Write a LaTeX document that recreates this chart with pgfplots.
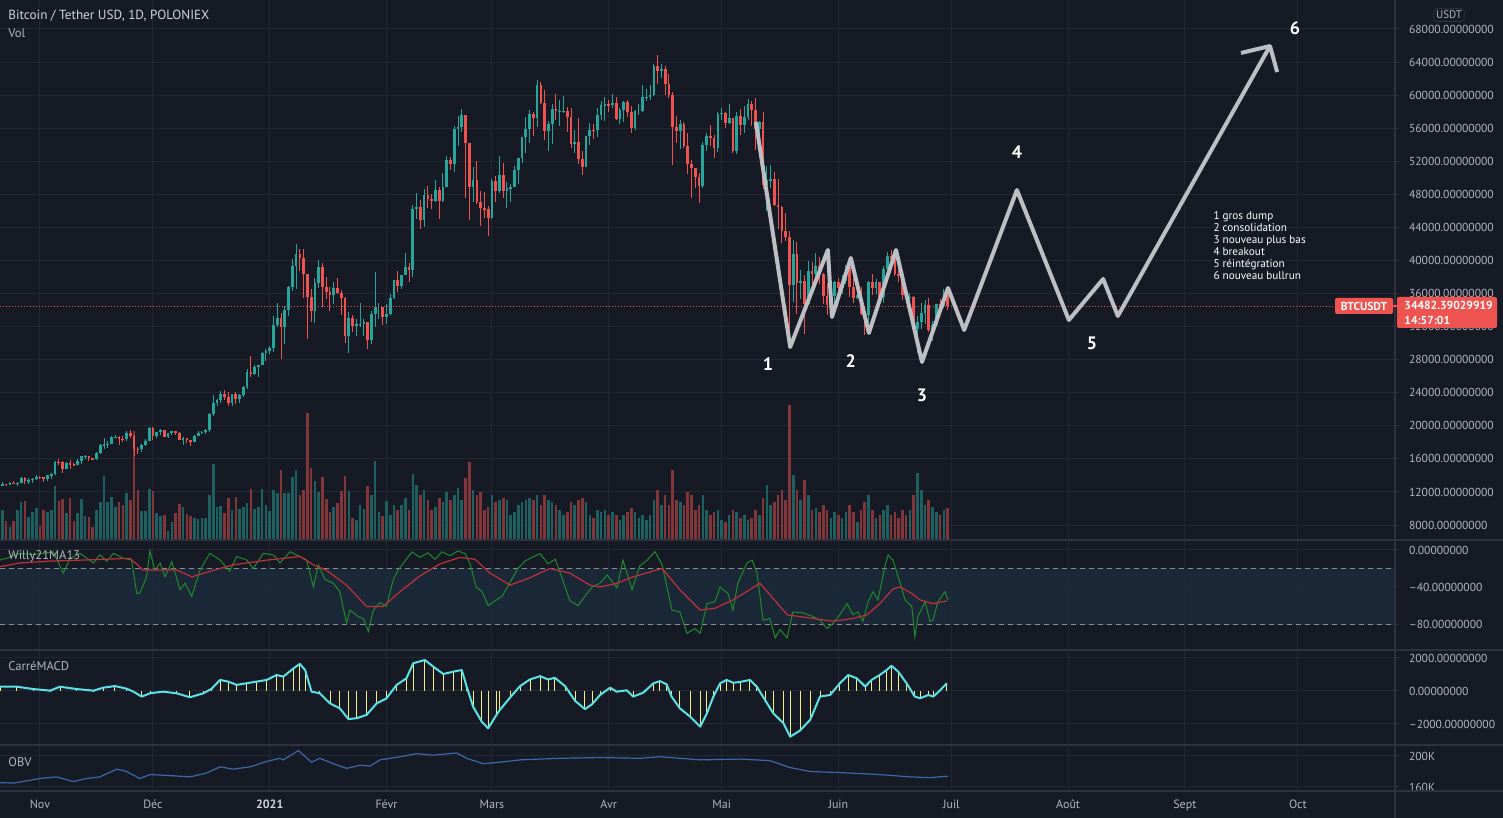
\documentclass[border=0pt]{standalone}
\usepackage{fontspec}
\setmainfont{PT Sans}
\usepackage{pgfplots}
\usepackage{pgfplotstable}
\pgfplotsset{compat=1.18}

\definecolor{bgc}{HTML}{161A25}
\definecolor{gridc}{HTML}{232733}
\definecolor{sepc}{HTML}{2E323E}
\definecolor{txtc}{HTML}{B2B5BE}
\definecolor{titc}{HTML}{D1D4DC}
\definecolor{upc}{HTML}{26A69A}
\definecolor{dnc}{HTML}{EF5350}
\definecolor{volup}{HTML}{1E605F}
\definecolor{voldn}{HTML}{82363A}
\definecolor{bandc}{HTML}{1D2B3B}
\definecolor{dashc}{HTML}{8A8D96}
\definecolor{wgreen}{HTML}{1F8B2C}
\definecolor{wred}{HTML}{C2303A}
\definecolor{macdc}{HTML}{5CE1E6}
\definecolor{macdy}{HTML}{F5EC8A}
\definecolor{obvc}{HTML}{3C67A8}
\definecolor{annc}{HTML}{BEBFC4}

% daily candles, d = days from 1 Nov 2020, prices in thousands USDT, v = volume bar
\pgfplotstableread{
d o h l c v
-11 11.92 13.22 11.90 12.80 50
-10 12.80 13.20 12.68 12.97 30
-9 12.97 13.02 12.72 12.93 19
-8 12.93 13.17 12.90 13.11 13
-7 13.11 13.34 12.92 13.03 19
-6 13.03 13.24 12.78 13.07 30
-5 13.07 13.78 13.05 13.64 38
-4 13.64 13.86 12.95 13.27 39
-3 13.27 13.63 12.99 13.46 23
-2 13.46 13.68 13.12 13.56 28
-1 13.56 14.08 13.43 13.80 32
0 13.80 13.89 13.60 13.76 14
1 13.76 13.82 13.20 13.55 30
2 13.55 14.07 13.29 14.03 28
3 14.03 14.24 13.53 14.13 30
4 14.13 15.76 14.09 15.59 54
5 15.59 15.97 15.21 15.58 39
6 15.58 15.77 14.35 14.83 41
7 14.83 15.65 14.72 15.48 27
8 15.48 15.84 14.81 15.33 42
9 15.33 15.47 15.09 15.30 19
10 15.30 15.96 15.29 15.70 27
11 15.70 16.34 15.43 16.29 41
12 16.29 16.48 15.95 16.33 24
13 16.33 16.33 15.78 16.07 23
14 16.07 16.14 15.87 15.96 13
15 15.96 16.85 15.89 16.72 30
16 16.72 17.85 16.56 17.65 38
17 17.65 18.48 17.22 17.78 64
18 17.78 18.12 17.34 17.82 38
19 17.82 18.82 17.76 18.68 43
20 18.68 18.95 18.51 18.70 33
21 18.70 18.71 17.65 18.42 38
22 18.42 18.76 18.01 18.37 35
23 18.37 19.39 18.14 19.16 47
24 19.16 19.49 18.57 18.73 40
25 18.73 18.92 16.33 17.15 109
26 17.15 17.46 16.54 17.14 50
27 17.14 17.86 16.88 17.72 29
28 17.72 18.35 17.54 18.18 29
29 18.18 19.86 18.17 19.70 51
30 19.70 19.90 18.33 18.80 49
31 18.80 19.31 18.51 19.22 27
32 19.22 19.57 18.92 19.45 24
33 19.45 19.52 18.59 18.70 25
34 18.70 19.18 18.51 19.15 9
35 19.15 19.42 18.86 19.36 18
36 19.36 19.41 18.92 19.17 27
37 19.17 19.28 18.24 18.32 36
38 18.32 18.63 17.65 18.55 33
39 18.55 18.57 17.91 18.25 26
40 18.25 18.27 17.58 18.04 24
41 18.04 18.94 18.02 18.80 22
42 18.80 19.41 18.72 19.17 21
43 19.17 19.35 19.00 19.27 22
44 19.27 19.57 19.05 19.44 22
45 19.44 21.56 19.30 21.38 45
46 21.38 23.77 21.23 22.80 76
47 22.80 23.28 22.35 23.14 33
48 23.14 24.17 22.77 23.87 34
49 23.87 24.30 23.07 23.48 27
50 23.48 24.10 22.40 22.74 42
51 22.74 23.84 22.35 23.83 30
52 23.83 24.10 22.66 23.24 43
53 23.24 23.80 22.72 23.73 31
54 23.73 24.79 23.43 24.71 33
55 24.71 26.87 24.50 26.49 37
56 26.49 28.42 25.85 26.28 51
57 26.28 27.39 26.09 27.08 31
58 27.08 27.40 25.88 27.36 33
59 27.36 28.99 27.32 28.84 51
60 28.84 29.30 27.85 29.00 35
61 29.00 29.60 28.65 29.37 29
62 29.37 33.30 28.95 32.19 50
63 32.19 34.80 32.00 33.00 47
64 33.00 33.60 28.13 31.99 70
65 31.99 34.44 29.90 33.96 47
66 33.96 36.94 33.30 36.82 47
67 36.82 40.18 36.30 39.37 63
68 39.37 41.95 36.50 40.80 70
69 40.80 41.38 38.72 40.25 45
70 40.25 41.35 35.50 38.35 50
71 38.35 38.35 30.45 35.55 127
72 35.55 36.60 32.50 33.92 72
73 33.92 37.85 32.40 37.32 59
74 37.32 40.10 36.70 39.19 48
75 39.19 39.70 34.40 36.82 63
76 36.82 37.95 35.40 36.18 41
77 36.18 36.85 33.85 35.79 28
78 35.79 37.40 34.75 36.63 33
79 36.63 37.85 35.90 36.07 37
80 36.07 36.40 33.40 35.50 49
81 35.50 35.60 30.07 30.83 64
82 30.83 33.80 28.85 33.01 49
83 33.01 33.45 31.40 32.10 22
84 32.10 32.95 30.90 32.28 20
85 32.28 34.88 31.95 32.37 35
86 32.37 32.90 30.84 32.57 31
87 32.57 32.57 29.24 30.43 54
88 30.43 33.85 29.85 33.47 45
89 33.47 38.55 31.95 34.32 79
90 34.32 34.90 32.90 34.32 28
91 34.32 34.32 32.20 33.14 24
92 33.14 34.70 32.30 33.51 39
93 33.51 35.95 33.42 35.48 25
94 35.48 37.65 35.37 37.62 35
95 37.62 38.70 36.15 36.94 30
96 36.94 38.30 36.60 38.29 35
97 38.29 40.95 38.20 39.26 42
98 39.26 39.70 37.40 38.90 30
99 38.90 46.75 37.99 46.20 66
100 46.20 48.20 45.00 46.48 55
101 46.48 47.30 43.80 44.84 45
102 44.84 48.60 43.99 47.97 50
103 47.97 48.95 46.30 47.40 40
104 47.40 48.00 46.20 47.19 30
105 47.19 49.70 47.05 48.58 33
106 48.58 48.88 45.00 47.17 42
107 47.17 50.55 47.05 48.94 38
108 48.94 52.60 48.90 52.12 48
109 52.12 52.50 50.90 51.62 40
110 51.62 56.30 50.70 55.89 45
111 55.89 57.50 53.90 56.10 52
112 56.10 58.35 55.50 57.54 40
113 57.54 57.54 47.60 54.20 62
114 54.20 54.20 44.95 48.89 78
115 48.89 51.35 47.05 49.70 50
116 49.70 52.00 46.80 47.09 45
117 47.09 48.40 44.20 46.34 48
118 46.34 48.30 45.10 46.19 30
119 46.19 46.60 43.00 45.14 33
120 45.14 49.80 45.00 49.60 45
121 49.60 50.20 47.10 48.44 38
122 48.44 52.60 48.15 50.35 40
123 50.35 51.80 47.50 48.37 42
124 48.37 49.45 46.30 48.76 40
125 48.76 49.20 47.07 48.88 25
126 48.88 51.45 48.88 50.97 28
127 50.97 52.40 49.30 52.38 35
128 52.38 54.90 51.85 54.88 38
129 54.88 57.40 53.00 55.96 40
130 55.96 58.15 54.25 57.77 42
131 57.77 58.00 55.05 57.23 40
132 57.23 61.80 56.10 61.19 45
133 61.19 61.60 58.95 59.00 35
134 59.00 60.60 54.60 55.64 45
135 55.64 56.90 53.30 56.47 40
136 56.47 58.90 54.10 58.33 38
137 58.33 60.10 57.00 58.03 35
138 58.03 59.45 56.25 58.10 30
139 58.10 59.90 57.80 58.11 25
140 58.11 58.60 55.50 57.35 28
141 57.35 58.40 53.65 54.10 38
142 54.10 55.80 53.00 54.34 35
143 54.34 57.20 51.70 52.30 40
144 52.30 53.20 50.40 51.30 42
145 51.30 55.10 51.30 55.03 38
146 55.03 56.60 53.95 55.84 25
147 55.84 56.55 54.70 55.78 22
148 55.78 58.40 54.90 57.63 30
149 57.63 59.35 57.00 58.75 28
150 58.75 59.80 56.90 58.92 30
151 58.92 59.45 57.95 58.76 25
152 58.76 60.10 58.45 59.04 28
153 59.04 59.80 56.95 57.06 25
154 57.06 58.50 56.50 58.20 20
155 58.20 59.25 56.80 59.13 25
156 59.13 59.45 57.40 57.99 28
157 57.99 58.65 55.45 56.00 32
158 56.00 58.15 55.80 58.09 28
159 58.09 58.90 57.65 58.09 22
160 58.09 61.20 57.90 59.77 25
161 59.77 60.70 59.30 59.79 20
162 59.79 61.20 59.40 59.98 25
163 59.98 63.80 59.87 63.50 40
164 63.50 64.85 61.30 62.96 50
165 62.96 63.80 62.05 63.20 35
166 63.20 63.55 60.00 61.40 45
167 61.40 62.50 59.60 60.06 35
168 60.06 60.40 51.50 56.20 70
169 56.20 57.50 54.20 55.70 40
170 55.70 57.00 53.50 56.50 38
171 56.50 56.70 53.65 53.80 35
172 53.80 55.45 50.50 51.70 48
173 51.70 52.10 47.50 51.15 45
174 51.15 51.20 48.80 50.05 30
175 50.05 50.55 47.00 49.00 35
176 49.00 54.35 48.80 54.00 45
177 54.00 55.45 53.20 55.03 30
178 55.03 56.40 53.90 54.84 25
179 54.84 55.15 52.40 53.56 28
180 53.56 57.95 53.10 57.75 30
181 57.75 58.45 57.05 57.83 20
182 57.83 57.90 56.05 56.62 18
183 56.62 58.95 56.50 57.20 25
184 57.20 57.25 53.05 53.24 30
185 53.24 57.90 52.90 57.50 28
186 57.50 58.35 55.20 56.40 22
187 56.40 58.65 55.40 57.40 25
188 57.40 59.50 56.95 58.90 20
189 58.90 59.25 56.25 58.25 22
190 58.25 59.60 53.40 55.86 30
191 55.86 56.90 54.40 56.70 25
192 56.70 58.00 48.60 49.15 42
193 49.15 51.40 46.00 49.70 55
194 49.70 51.55 48.80 49.88 35
195 49.88 50.70 46.60 46.76 38
196 46.76 49.80 43.85 46.45 45
197 46.45 46.60 42.10 43.54 50
198 43.54 45.80 42.30 42.90 40
199 42.90 43.55 30.00 37.00 135
200 37.00 42.50 35.00 40.80 65
201 40.80 42.20 33.50 37.30 50
202 37.30 38.80 35.30 37.50 40
203 37.50 38.30 31.10 34.70 60
204 34.70 39.90 34.60 38.70 45
205 38.70 39.80 36.40 38.40 30
206 38.40 40.85 37.80 39.30 32
207 39.30 40.40 37.20 38.40 28
208 38.40 38.45 34.70 35.70 35
209 35.70 37.30 33.40 34.60 30
210 34.60 36.50 33.70 35.65 22
211 35.65 37.50 34.20 37.34 28
212 37.34 37.90 35.70 36.70 25
213 36.70 38.20 35.95 37.57 22
214 37.57 39.50 37.20 39.20 28
215 39.20 39.30 35.60 36.85 35
216 36.85 37.90 34.80 35.52 28
217 35.52 36.50 35.30 35.80 18
218 35.80 36.80 33.40 33.57 30
219 33.57 34.10 31.00 33.38 38
220 33.38 37.50 32.40 37.39 45
221 37.39 38.40 35.80 36.69 30
222 36.69 37.70 35.95 37.34 22
223 37.34 37.45 34.65 35.55 25
224 35.55 39.30 34.80 39.02 30
225 39.02 41.05 38.80 40.52 35
226 40.52 41.30 39.50 40.14 25
227 40.14 40.50 38.10 38.35 28
228 38.35 39.55 37.40 38.09 22
229 38.09 38.20 35.20 35.82 30
230 35.82 36.45 34.85 35.48 25
231 35.48 36.10 33.35 35.60 30
232 35.60 35.75 31.25 31.68 45
233 31.68 33.30 28.80 32.50 67
234 32.50 34.80 31.70 33.68 50
235 33.68 35.20 32.30 34.66 35
236 34.66 35.50 31.30 31.60 40
237 31.60 32.70 30.20 32.24 33
238 32.24 34.70 32.00 34.68 28
239 34.68 35.30 33.90 34.50 25
240 34.50 36.60 34.20 35.87 30
241 35.87 36.10 34.05 34.48 32
}\ohlc

% Willy21 (green) and its MA13 (red)
\pgfplotstableread{
d w
-10.6 -10.8
-8.9 -9
-5.3 -3.6
-1.8 -5
0.9 -3.6
3.5 -2
6.2 -25
8.0 -9
10.6 -3.6
14.2 -14
15.9 -5
17.7 -12
19.5 -3.6
22.1 -9
24.3 -10.8
25.7 -47
26.5 -47
28.3 -29
29.2 -1
30.5 -22
31.9 -14
33.2 -29
35.0 -12.6
37.2 -43
38.5 -36
40.3 -50
42.5 -21.6
45.1 -3.6
47.8 -10.8
50.4 -23
52.2 -7
54.9 -10.8
56.6 -20
59.3 -3.6
62.0 -5.4
63.7 -14
66.4 -1.8
69.0 -7
70.8 -10.8
72.6 -40
73.9 -16
75.7 -32
77.9 -36
79.6 -45
81.4 -79
82.3 -65
84.5 -72
85.8 -74
87.2 -88
88.5 -65
90.3 -57
92.0 -61
93.8 -32
95.1 -21.6
96.9 -12
98.8 -2
100.9 -8
103.0 -3
104.9 -10
106.7 -2
108.9 -6
111.0 -1
112.9 -4
114.2 -15
115.8 -40
117.4 -45
119.0 -60
120.8 -55
122.7 -50
124.8 -35
126.9 -20
128.8 -12
130.6 -8
132.8 -4
134.9 -15
136.8 -10
138.6 -30
140.7 -55
142.9 -60
144.7 -50
146.6 -40
148.7 -36
150.6 -27
153.2 -41
154.8 -11
157.2 -43
159.3 -17
161.2 -11
163.3 -1.8
165.2 -16
167.8 -65
169.9 -67
171.8 -90
173.9 -85
175.3 -90
177.1 -58
179.2 -56
180.6 -40
182.7 -47
184.0 -65
185.3 -36
187.7 -14
189.1 -11
190.4 -25
192.0 -76
193.8 -74
195.2 -95
196.5 -86
198.4 -95
199.9 -67
202.6 -68
205.3 -72
207.1 -76
209.0 -85
210.6 -79
212.4 -70
214.3 -58
215.9 -70
217.2 -67
218.5 -77
219.9 -56
221.2 -45
222.5 -54
224.4 -17
225.2 -5.4
226.5 -11
228.4 -36
229.7 -54
231.5 -61
232.3 -94
233.1 -72
235.0 -56
236.3 -77
237.1 -76
238.4 -56
240.3 -45
241.1 -54
}\willy

\pgfplotstableread{
d m
-10.6 -18
-5.3 -14
2.6 -12
10.6 -11
23.9 -9
27.4 -21.6
36.3 -21.6
40.3 -29
46.0 -22
51.3 -16
60.2 -11
69.0 -7
72.6 -16
76.1 -22
81.4 -38
86.7 -61
91.1 -61
95.6 -45
100.9 -28
106.2 -15
111.5 -8
115.5 -10
119.5 -25
124.8 -38
130.1 -30
135.4 -20
140.7 -25
146.0 -38
148.7 -40
153.2 -36
157.5 -29
165.2 -20
169.9 -43
175.3 -65
179.2 -63
184.0 -54
191.2 -36
198.4 -70
205.3 -74
210.6 -77
215.9 -74
219.6 -70
223.0 -58
226.5 -42
228.4 -40
231.5 -47
233.7 -54
237.1 -58
240.8 -55
}\willyma

\pgfplotstableread{
d m
-10.6 260
-6.2 260
-1.8 120
2.7 20
5.3 260
9.7 120
14.2 20
16.8 200
19.9 300
23.0 140
24.8 -40
27.0 -340
29.2 -140
32.7 -40
36.3 -140
39.8 -380
43.4 -140
45.6 140
47.8 670
50.0 570
52.2 370
54.9 470
57.5 570
60.2 670
62.8 970
64.6 870
67.3 1370
69.0 1640
70.4 1270
72.1 -40
74.3 -140
77.0 -750
79.6 -1050
81.9 -1700
84.1 -1650
86.7 -1450
89.4 -750
92.0 -450
94.7 370
97.3 770
99.1 1680
102.2 1880
104.4 1480
107.1 1030
109.7 1170
112.0 1270
113.3 260
115.0 -950
117.3 -1860
119.0 -2260
121.2 -1450
122.1 -1150
124.8 -400
127.5 300
130.1 700
132.8 900
134.9 700
136.7 800
139.4 300
142.1 -600
144.7 -1100
146.6 -800
148.7 -240
151.4 200
153.1 -40
155.8 40
157.5 -340
160.2 -100
162.9 470
164.6 600
166.4 400
167.7 -340
169.9 -1050
172.6 -1550
175.3 -2160
177.0 -1400
178.8 -340
180.6 470
182.3 670
184.1 500
185.9 550
188.5 670
190.3 270
192.5 -540
194.7 -1350
197.4 -1950
199.2 -2770
201.8 -2400
204.5 -1750
207.1 -340
209.8 -240
212.4 470
214.6 970
216.9 770
219.1 270
220.8 670
223.0 970
224.8 1270
226.1 1530
227.9 1170
230.1 470
232.3 -340
233.7 -440
235.9 -240
237.2 -340
239.0 40
240.8 470
}\macd

\pgfplotstableread{
d k
-10.6 165.6
-7.1 165
-3.5 168
0 171
4.4 173
8.8 167
12.4 171
15.9 173
20.4 183
23.0 180
26.5 171
29.2 176
33.6 175
39.8 173
44.2 178
47.8 186
51.3 183
55.8 186
60.2 193
63.7 197
64.6 195
68.6 207
72.1 192
74.3 197
77.9 190
81.4 184
85.0 188
87.6 187
90.3 195
95.6 199
100.0 203
104.4 201
110.6 204
113.3 197
117.7 190
122.1 192
127.5 195
138.1 197
148.7 198
159.3 197
164.6 199
175.3 195
185.9 196
193.8 194
199.2 185
204.5 180
215.1 178
223.0 176
231.0 173
236.3 172
241.1 174
}\obv

\pgfplotsset{
  panel/.style={
    scale only axis, width=697.5pt, anchor=south west,
    xmin=-10.62, xmax=359.8,
    axis line style={draw=none},
    xtick={0,30,61,92,120,151,181,212,242,273,304,334},
    xticklabels={}, xtick style={draw=none},
    ytick pos=right, yticklabel pos=right,
    ytick style={draw=sepc, line width=0.5pt}, major tick length=2pt, tick align=outside,
    yticklabel style={anchor=west, xshift=1.5pt, font=\fontsize{5.8}{7}\selectfont, text=txtc},
    grid style={draw=gridc, line width=0.5pt},
    xmajorgrids, ymajorgrids,
  },
  bare/.style={panel, xtick=\empty, ytick=\empty, xmajorgrids=false, ymajorgrids=false},
}

\begin{document}
\begin{tikzpicture}
\fill[bgc] (0,0) rectangle (751.5pt,409pt);

% price panel: grid and scale
\begin{axis}[panel, at={(0pt,139pt)}, height=270pt, ymin=6.19, ymax=71.508,
  ytick={8,12,16,20,24,28,32,36,40,44,48,52,56,60,64,68},
  yticklabels={8000.00000000,12000.00000000,16000.00000000,20000.00000000,24000.00000000,28000.00000000,32000.00000000,36000.00000000,40000.00000000,44000.00000000,48000.00000000,52000.00000000,56000.00000000,60000.00000000,64000.00000000,68000.00000000}]
\end{axis}

% volume
\begin{axis}[bare, at={(0pt,139pt)}, height=270pt, ymin=0, ymax=540]
\addplot[ycomb, draw=volup, line width=1.3pt] table[x=d, y expr={\thisrow{c}>=\thisrow{o} ? \thisrow{v} : nan}] {\ohlc};
\addplot[ycomb, draw=voldn, line width=1.3pt] table[x=d, y expr={\thisrow{c}<\thisrow{o} ? \thisrow{v} : nan}] {\ohlc};
\end{axis}

% candles and drawing
\begin{axis}[bare, at={(0pt,139pt)}, height=270pt, ymin=6.19, ymax=71.508]
\addplot[draw=none, error bars/.cd, y dir=both, y explicit, error mark=none, error bar style={draw=upc, line width=0.5pt}]
  table[x=d, y expr={\thisrow{c}>=\thisrow{o} ? (\thisrow{h}+\thisrow{l})/2 : nan}, y error expr={(\thisrow{h}-\thisrow{l})/2}] {\ohlc};
\addplot[draw=none, error bars/.cd, y dir=both, y explicit, error mark=none, error bar style={draw=dnc, line width=0.5pt}]
  table[x=d, y expr={\thisrow{c}<\thisrow{o} ? (\thisrow{h}+\thisrow{l})/2 : nan}, y error expr={(\thisrow{h}-\thisrow{l})/2}] {\ohlc};
\addplot[draw=none, error bars/.cd, y dir=both, y explicit, error mark=none, error bar style={draw=upc, line width=1.35pt}]
  table[x=d, y expr={\thisrow{c}>=\thisrow{o} ? (\thisrow{o}+\thisrow{c})/2 : nan}, y error expr={abs(\thisrow{c}-\thisrow{o})/2}] {\ohlc};
\addplot[draw=none, error bars/.cd, y dir=both, y explicit, error mark=none, error bar style={draw=dnc, line width=1.35pt}]
  table[x=d, y expr={\thisrow{c}<\thisrow{o} ? (\thisrow{o}+\thisrow{c})/2 : nan}, y error expr={abs(\thisrow{c}-\thisrow{o})/2}] {\ohlc};
% last price
\addplot[dnc, line width=0.5pt, dash pattern=on 0.5pt off 1pt] coordinates {(-10.62,34.48) (359.8,34.48)};
% projected path
\addplot[annc, line width=2pt, line join=round] coordinates {
  (190.1,56.75) (199.2,29.53) (209.2,41.27) (210.3,33.16) (215.3,40.30) (220.1,31.23)
  (227.3,41.27) (234.2,27.72) (241.1,36.67) (245.4,31.59) (259.4,48.52) (273.2,32.80)
  (282.3,37.76) (286.2,33.28) (326.6,65.94)};
\addplot[annc, line width=2pt, line join=round] coordinates {(318.9,65.10) (326.6,65.94) (328.5,62.80)};
\node[text=white, font=\bfseries\fontsize{9}{10}\selectfont] at (axis cs:193.3,27.48) {1};
\node[text=white, font=\bfseries\fontsize{9}{10}\selectfont] at (axis cs:215.3,27.84) {2};
\node[text=white, font=\bfseries\fontsize{9}{10}\selectfont] at (axis cs:234.2,23.73) {3};
\node[text=white, font=\bfseries\fontsize{9}{10}\selectfont] at (axis cs:259.4,53.12) {4};
\node[text=white, font=\bfseries\fontsize{9}{10}\selectfont] at (axis cs:279.3,30.02) {5};
\node[text=white, font=\bfseries\fontsize{9}{10}\selectfont] at (axis cs:333.2,68.12) {6};
\node[anchor=north west, align=left, inner sep=0pt, text=white, font=\fontsize{5.6}{6}\selectfont] at (axis cs:311.5,46.0)
  {1 gros dump\\2 consolidation\\3 nouveau plus bas\\4 breakout\\5 réintégration\\6 nouveau bullrun};
\end{axis}

% Willy21MA13
\begin{axis}[panel, at={(0pt,84pt)}, height=55pt, ymin=-108.1, ymax=10.81,
  ytick={0,-40,-80}, yticklabels={0.00000000,–40.00000000,–80.00000000}]
\addplot[fill=bandc, draw=none, fill opacity=0.85] coordinates {(-10.62,-20) (359.8,-20) (359.8,-80) (-10.62,-80)} -- cycle;
\addplot[dashc, line width=0.5pt, dash pattern=on 2.5pt off 2pt] coordinates {(-10.62,-20) (359.8,-20)};
\addplot[dashc, line width=0.5pt, dash pattern=on 2.5pt off 2pt] coordinates {(-10.62,-80) (359.8,-80)};
\addplot[wgreen, line width=0.5pt] table[x=d, y=w] {\willy};
\addplot[wred, line width=0.6pt] table[x=d, y=m] {\willyma};
\end{axis}

% CarréMACD
\begin{axis}[panel, at={(0pt,36.5pt)}, height=47.5pt, ymin=-3272.7, ymax=2484.8,
  ytick={-2000,0,2000}, yticklabels={–2000.00000000,0.00000000,2000.00000000}]
\addplot[ycomb, macdy, line width=0.45pt] table[x=d, y=m] {\macd};
\addplot[macdc, line width=1pt, line join=round] table[x=d, y=m] {\macd};
\end{axis}

% OBV
\begin{axis}[panel, at={(0pt,13.5pt)}, height=23pt, ymin=154.8, ymax=214.2,
  ytick={160,200}, yticklabels={160K,200K},
  xticklabels={Nov,Déc,{\color{titc}\textbf{2021}},Févr,Mars,Avr,Mai,Juin,Juil,Août,Sept,Oct},
  xticklabel style={anchor=base, yshift=-7pt, font=\fontsize{6}{7}\selectfont, text=txtc}]
\addplot[obvc, line width=0.6pt] table[x=d, y=k] {\obv};
\end{axis}

% cut the scale under the last panel, then the separators
\fill[bgc] (697.5pt,0) rectangle (751.5pt,13.5pt);
\draw[sepc, line width=0.6pt] (0,139pt) -- (751.5pt,139pt);
\draw[sepc, line width=0.6pt] (0,84pt) -- (751.5pt,84pt);
\draw[sepc, line width=0.6pt] (0,36.5pt) -- (751.5pt,36.5pt);
\draw[sepc, line width=0.6pt] (0,13.5pt) -- (751.5pt,13.5pt);
\draw[sepc, line width=0.6pt] (697.5pt,0) -- (697.5pt,409pt);

% titles
\node[anchor=west, inner sep=0pt, text=titc, font=\fontsize{6.6}{7}\selectfont] at (4pt,401pt) {Bitcoin / Tether USD, 1D, POLONIEX};
\node[anchor=west, inner sep=0pt, text=txtc, font=\fontsize{6.3}{7}\selectfont] at (4pt,392.5pt) {Vol};
\node[anchor=west, inner sep=0pt, text=txtc, font=\fontsize{6.3}{7}\selectfont] at (4pt,131pt) {Willy21MA13};
\node[anchor=west, inner sep=0pt, text=txtc, font=\fontsize{6.3}{7}\selectfont] at (4pt,76pt) {CarréMACD};
\node[anchor=west, inner sep=0pt, text=txtc, font=\fontsize{6.3}{7}\selectfont] at (4pt,28pt) {OBV};

% scale labels
\node[draw=sepc, rounded corners=1.5pt, text=txtc, font=\fontsize{5.5}{6}\selectfont, inner sep=1.2pt] at (724.5pt,401.5pt) {USDT};
\node[fill=dnc, text=white, font=\bfseries\fontsize{5.8}{7}\selectfont, minimum width=29pt, minimum height=8pt, inner sep=0pt, rounded corners=1pt] at (682pt,256pt) {BTCUSDT};
\draw[dnc, line width=0.6pt] (696.5pt,256pt) -- (699pt,256pt);
\fill[dnc, rounded corners=1pt] (698.5pt,245pt) rectangle (748.5pt,260.5pt);
\node[anchor=west, inner sep=0pt, text=white, font=\bfseries\fontsize{5.8}{7}\selectfont] at (702pt,256.2pt) {34482.39029919};
\node[anchor=west, inner sep=0pt, text=white, font=\bfseries\fontsize{5.8}{7}\selectfont] at (702pt,248.7pt) {14:57:01};

\pgfresetboundingbox
\useasboundingbox (0,0) rectangle (751.5pt,409pt);
\end{tikzpicture}
\end{document}
